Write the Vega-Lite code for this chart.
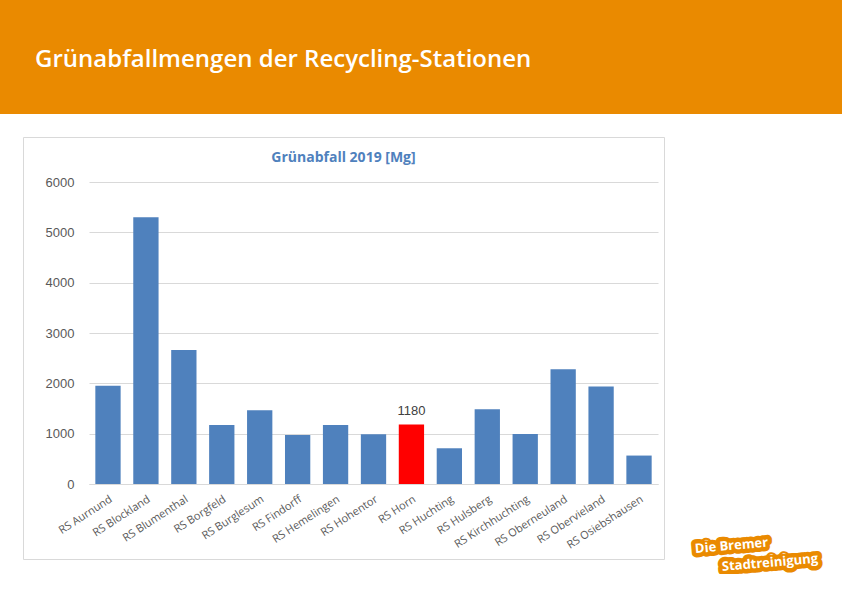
{
  "$schema": "https://vega.github.io/schema/vega-lite/v6.json",
  "padding": 0,
  "background": "white",
  "spacing": 22,
  "config": {"view": {"stroke": null}},
  "datasets": {
    "stations": [
      {"station": "RS Aurnund", "value": 1950},
      {"station": "RS Blockland", "value": 5300},
      {"station": "RS Blumenthal", "value": 2660},
      {"station": "RS Borgfeld", "value": 1170},
      {"station": "RS Burglesum", "value": 1465},
      {"station": "RS Findorff", "value": 975},
      {"station": "RS Hemelingen", "value": 1170},
      {"station": "RS Hohentor", "value": 990},
      {"station": "RS Horn", "value": 1180},
      {"station": "RS Huchting", "value": 710},
      {"station": "RS Hulsberg", "value": 1485},
      {"station": "RS Kirchhuchting", "value": 995},
      {"station": "RS Oberneuland", "value": 2280},
      {"station": "RS Obervieland", "value": 1935},
      {"station": "RS Osiebshausen", "value": 565}
    ],
    "logo": [
      {"line": "Die Bremer", "row": 1},
      {"line": "Stadtreinigung", "row": 2}
    ]
  },
  "vconcat": [
    {
      "width": 842,
      "height": 114,
      "view": {"fill": "#EA8A00", "stroke": null},
      "title": {
        "text": "Grünabfallmengen der Recycling-Stationen",
        "anchor": "start",
        "offset": -72,
        "dx": 35,
        "color": "white",
        "font": "Open Sans",
        "fontSize": 24,
        "fontWeight": 600
      },
      "data": {"values": [{"t": ""}]},
      "mark": {"type": "text"},
      "encoding": {"text": {"field": "t"}}
    },
    {
      "spacing": 0,
      "hconcat": [
        {
          "width": 22,
          "height": 422,
          "data": {"values": []},
          "mark": {"type": "point"},
          "encoding": {}
        },
        {
          "width": 641,
          "height": 422,
          "view": {"stroke": "#D9D9D9", "fill": "white"},
          "title": {
            "text": "Grünabfall 2019 [Mg]",
            "offset": -28,
            "anchor": "middle",
            "font": "Open Sans",
            "fontSize": 14,
            "fontWeight": "bold",
            "color": "#4F81BD"
          },
          "data": {"name": "stations"},
          "encoding": {
            "x": {
              "field": "station",
              "type": "nominal",
              "sort": null,
              "scale": {"range": [66, 635], "paddingInner": 0.333, "paddingOuter": 0.167},
              "axis": {
                "title": null,
                "labelAngle": -33,
                "labelFont": "Open Sans",
                "labelFontSize": 11,
                "labelColor": "#595959",
                "ticks": false,
                "domainColor": "#D9D9D9",
                "labelPadding": 9,
                "offset": -75,
                "grid": false
              }
            },
            "y": {
              "field": "value",
              "type": "quantitative",
              "scale": {"domain": [0, 6000], "range": [347, 45], "nice": false},
              "axis": {
                "title": null,
                "values": [0, 1000, 2000, 3000, 4000, 5000, 6000],
                "format": "d",
                "offset": -66,
                "domain": false,
                "ticks": false,
                "labelPadding": 15,
                "labelFont": "Liberation Sans",
                "labelFontSize": 13,
                "labelColor": "#595959",
                "grid": true,
                "gridColor": "#D9D9D9"
              }
            }
          },
          "layer": [
            {
              "mark": {"type": "bar"},
              "encoding": {
                "color": {
                  "condition": {"test": "datum.station === 'RS Horn'", "value": "#FF0000"},
                  "value": "#4F81BD"
                }
              }
            },
            {
              "transform": [{"filter": "datum.station === 'RS Horn'"}],
              "mark": {"type": "text", "baseline": "middle", "dy": -14, "fontSize": 13, "font": "Liberation Sans", "color": "#404040"},
              "encoding": {"text": {"field": "value", "type": "quantitative", "format": "d"}}
            }
          ]
        },
        {
          "width": 160,
          "height": 422,
          "data": {"name": "logo"},
          "encoding": {
            "x": {"field": "row", "type": "ordinal", "scale": {"type": "point", "range": [30, 57], "padding": 0}, "axis": null},
            "y": {"field": "row", "type": "ordinal", "scale": {"type": "point", "range": [412, 430], "padding": 0}, "axis": null},
            "text": {"field": "line"}
          },
          "layer": [
            {
              "mark": {"type": "text", "align": "left", "baseline": "middle", "angle": -5, "font": "Open Sans", "fontWeight": "bold", "fontSize": 13, "color": "#EA8A00", "stroke": "#EA8A00", "strokeWidth": 9, "strokeJoin": "round"}
            },
            {
              "mark": {"type": "text", "align": "left", "baseline": "middle", "angle": -5, "font": "Open Sans", "fontWeight": "bold", "fontSize": 13, "color": "white"}
            }
          ]
        }
      ]
    }
  ]
}
